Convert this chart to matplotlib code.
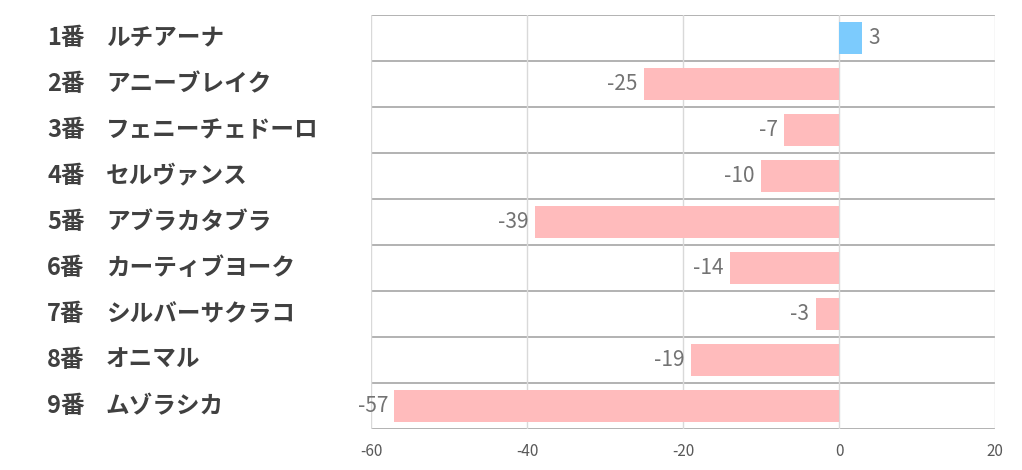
import matplotlib.pyplot as plt
from matplotlib.transforms import blended_transform_factory

plt.rcParams['font.family'] = ['Noto Sans CJK JP', 'DejaVu Sans']

numeros = ['1番', '2番', '3番', '4番', '5番', '6番', '7番', '8番', '9番']
nomes = ['ルチアーナ', 'アニーブレイク', 'フェニーチェドーロ', 'セルヴァンス',
         'アブラカタブラ', 'カーティブヨーク', 'シルバーサクラコ', 'オニマル', 'ムゾラシカ']
valores = [3, -25, -7, -10, -39, -14, -3, -19, -57]
xticks = [-60, -40, -20, 0, 20]

fig = plt.figure(figsize=(10.22, 4.70), dpi=100)
ax = fig.add_axes([371 / 1022, 1 - 429 / 470, (995 - 371) / 1022, (429 - 15) / 470])

y = list(range(len(valores)))
cores = ['#7ccbfd' if v > 0 else '#ffbbbc' for v in valores]
ax.barh(y, valores, height=0.7, color=cores, zorder=2)

ax.set_xlim(-60, 20)
ax.set_ylim(len(valores) - 0.5, -0.5)
ax.set_xticks(xticks)
ax.set_xticklabels([str(t) for t in xticks], color='#595959', fontsize=11)
ax.tick_params(axis='x', length=0, pad=10)
ax.set_yticks([])
ax.grid(axis='x', color='#d9d9d9', linewidth=1, zorder=0)
for s in ax.spines.values():
    s.set_visible(False)

# linhas entre as linhas da tabela
for i in range(len(valores) + 1):
    ax.axhline(i - 0.5, color='#a6a6a6', linewidth=1.2, zorder=1)

# rótulos dos valores
for i, v in enumerate(valores):
    if v >= 0:
        ax.text(v + 0.8, i, str(v), va='center', ha='left', fontsize=15, color='#737373')
    else:
        ax.text(v - 0.8, i, str(v), va='center', ha='right', fontsize=15, color='#737373')

# nomes à esquerda
tr = blended_transform_factory(fig.transFigure, ax.transData)
for i, (n, nome) in enumerate(zip(numeros, nomes)):
    ax.text(47 / 1022, i, n, transform=tr, ha='left', va='center',
            fontsize=17, fontweight='bold', color='#404040')
    ax.text(106 / 1022, i, nome, transform=tr, ha='left', va='center',
            fontsize=17, fontweight='bold', color='#404040')

fig.savefig('out.png', dpi=100)
